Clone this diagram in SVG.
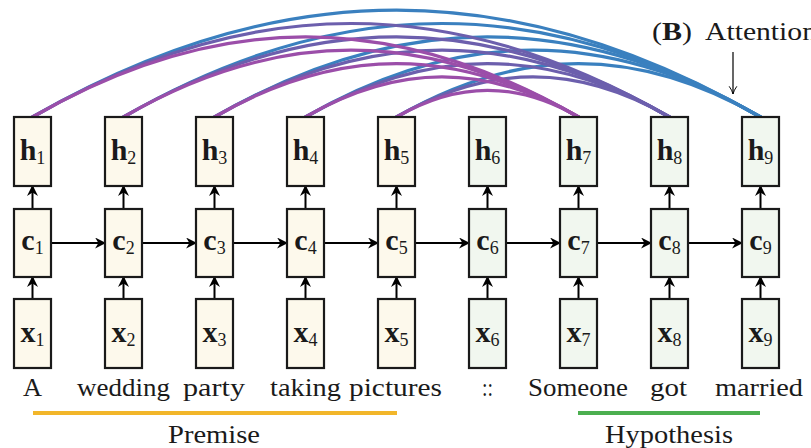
<svg xmlns="http://www.w3.org/2000/svg" width="811" height="448" viewBox="0 0 811 448">
<style>
.box{stroke:#1a1a1a;stroke-width:2.2}
.p{fill:#fdf9ec}
.q{fill:#f1f7ef}
.arr{stroke:#000;stroke-width:2;fill:none;marker-end:url(#ah)}
.att{fill:none;stroke-width:3.2;stroke-linecap:round}
.a7{stroke:#9b4ea9}
.a8{stroke:#6c5fad}
.a9{stroke:#3a80bf}
.lb{font-family:'Liberation Serif','Times New Roman',serif;font-size:30px;fill:#1a1a1a;text-anchor:middle}
.m{font-weight:bold}
.s{font-size:18px;font-weight:normal}
.w{font-family:'Liberation Serif','Times New Roman',serif;font-size:26px;fill:#1a1a1a}
</style>
<defs>
<marker id="ah" viewBox="0 0 10 10" refX="9" refY="5" markerWidth="5.5" markerHeight="5.5" orient="auto" markerUnits="strokeWidth">
<path d="M0,0 L10,5 L0,10 L3,5 z" fill="#000"/>
</marker>
<marker id="ah2" viewBox="0 0 10 10" refX="9" refY="5" markerWidth="8" markerHeight="8" orient="auto" markerUnits="strokeWidth">
<path d="M1,1 Q5,4 9,5 Q5,6 1,9" fill="none" stroke="#000" stroke-width="1"/>
</marker>
</defs>

<g id="attention">
<path class="att a9" d="M32.5 117 C279.32 -25.51 513.68 -25.51 760.5 117"/>
<path class="att a9" d="M123.5 117 C339.47 -7.69 544.53 -7.69 760.5 117"/>
<path class="att a9" d="M214.5 117 C399.62 10.12 575.38 10.12 760.5 117"/>
<path class="att a9" d="M305.5 117 C459.76 27.93 606.24 27.93 760.5 117"/>
<path class="att a9" d="M396.5 117 C519.91 45.75 637.09 45.75 760.5 117"/>
<path class="att a8" d="M32.5 117 C248.47 -7.69 453.53 -7.69 669.5 117"/>
<path class="att a8" d="M123.5 117 C308.62 10.12 484.38 10.12 669.5 117"/>
<path class="att a8" d="M214.5 117 C368.76 27.93 515.24 27.93 669.5 117"/>
<path class="att a8" d="M305.5 117 C428.91 45.75 546.09 45.75 669.5 117"/>
<path class="att a8" d="M396.5 117 C489.06 63.56 576.94 63.56 669.5 117"/>
<path class="att a7" d="M32.5 117 C217.62 10.12 393.38 10.12 578.5 117"/>
<path class="att a7" d="M123.5 117 C277.76 27.93 424.24 27.93 578.5 117"/>
<path class="att a7" d="M214.5 117 C337.91 45.75 455.09 45.75 578.5 117"/>
<path class="att a7" d="M305.5 117 C398.06 63.56 485.94 63.56 578.5 117"/>
<path class="att a7" d="M396.5 117 C458.2 81.37 516.8 81.37 578.5 117"/>
</g>

<g id="connectors">
<path class="arr" d="M32.5 299 V277"/><path class="arr" d="M32.5 209 V186"/>
<path class="arr" d="M123.5 299 V277"/><path class="arr" d="M123.5 209 V186"/>
<path class="arr" d="M214.5 299 V277"/><path class="arr" d="M214.5 209 V186"/>
<path class="arr" d="M305.5 299 V277"/><path class="arr" d="M305.5 209 V186"/>
<path class="arr" d="M396.5 299 V277"/><path class="arr" d="M396.5 209 V186"/>
<path class="arr" d="M487.5 299 V277"/><path class="arr" d="M487.5 209 V186"/>
<path class="arr" d="M578.5 299 V277"/><path class="arr" d="M578.5 209 V186"/>
<path class="arr" d="M669.5 299 V277"/><path class="arr" d="M669.5 209 V186"/>
<path class="arr" d="M760.5 299 V277"/><path class="arr" d="M760.5 209 V186"/>
<path class="arr" d="M51 243 H105"/>
<path class="arr" d="M142 243 H196"/>
<path class="arr" d="M233 243 H287"/>
<path class="arr" d="M324 243 H378"/>
<path class="arr" d="M415 243 H469"/>
<path class="arr" d="M506 243 H560"/>
<path class="arr" d="M597 243 H651"/>
<path class="arr" d="M688 243 H742"/>
<path d="M733 52 V94" stroke="#000" stroke-width="1.2" fill="none" marker-end="url(#ah2)"/>
</g>

<g id="col1">
<rect class="box p" x="14" y="117" width="37" height="69"/><text class="lb" x="32.5" y="160"><tspan class="m">h</tspan><tspan class="s" dy="4">1</tspan></text>
<rect class="box p" x="14" y="209" width="37" height="68"/><text class="lb" x="32.5" y="250"><tspan class="m">c</tspan><tspan class="s" dy="4">1</tspan></text>
<rect class="box p" x="14" y="299" width="37" height="69"/><text class="lb" x="32.5" y="342"><tspan class="m">x</tspan><tspan class="s" dy="4">1</tspan></text>
</g>
<g id="col2">
<rect class="box p" x="105" y="117" width="37" height="69"/><text class="lb" x="123.5" y="160"><tspan class="m">h</tspan><tspan class="s" dy="4">2</tspan></text>
<rect class="box p" x="105" y="209" width="37" height="68"/><text class="lb" x="123.5" y="250"><tspan class="m">c</tspan><tspan class="s" dy="4">2</tspan></text>
<rect class="box p" x="105" y="299" width="37" height="69"/><text class="lb" x="123.5" y="342"><tspan class="m">x</tspan><tspan class="s" dy="4">2</tspan></text>
</g>
<g id="col3">
<rect class="box p" x="196" y="117" width="37" height="69"/><text class="lb" x="214.5" y="160"><tspan class="m">h</tspan><tspan class="s" dy="4">3</tspan></text>
<rect class="box p" x="196" y="209" width="37" height="68"/><text class="lb" x="214.5" y="250"><tspan class="m">c</tspan><tspan class="s" dy="4">3</tspan></text>
<rect class="box p" x="196" y="299" width="37" height="69"/><text class="lb" x="214.5" y="342"><tspan class="m">x</tspan><tspan class="s" dy="4">3</tspan></text>
</g>
<g id="col4">
<rect class="box p" x="287" y="117" width="37" height="69"/><text class="lb" x="305.5" y="160"><tspan class="m">h</tspan><tspan class="s" dy="4">4</tspan></text>
<rect class="box p" x="287" y="209" width="37" height="68"/><text class="lb" x="305.5" y="250"><tspan class="m">c</tspan><tspan class="s" dy="4">4</tspan></text>
<rect class="box p" x="287" y="299" width="37" height="69"/><text class="lb" x="305.5" y="342"><tspan class="m">x</tspan><tspan class="s" dy="4">4</tspan></text>
</g>
<g id="col5">
<rect class="box p" x="378" y="117" width="37" height="69"/><text class="lb" x="396.5" y="160"><tspan class="m">h</tspan><tspan class="s" dy="4">5</tspan></text>
<rect class="box p" x="378" y="209" width="37" height="68"/><text class="lb" x="396.5" y="250"><tspan class="m">c</tspan><tspan class="s" dy="4">5</tspan></text>
<rect class="box p" x="378" y="299" width="37" height="69"/><text class="lb" x="396.5" y="342"><tspan class="m">x</tspan><tspan class="s" dy="4">5</tspan></text>
</g>
<g id="col6">
<rect class="box q" x="469" y="117" width="37" height="69"/><text class="lb" x="487.5" y="160"><tspan class="m">h</tspan><tspan class="s" dy="4">6</tspan></text>
<rect class="box q" x="469" y="209" width="37" height="68"/><text class="lb" x="487.5" y="250"><tspan class="m">c</tspan><tspan class="s" dy="4">6</tspan></text>
<rect class="box q" x="469" y="299" width="37" height="69"/><text class="lb" x="487.5" y="342"><tspan class="m">x</tspan><tspan class="s" dy="4">6</tspan></text>
</g>
<g id="col7">
<rect class="box q" x="560" y="117" width="37" height="69"/><text class="lb" x="578.5" y="160"><tspan class="m">h</tspan><tspan class="s" dy="4">7</tspan></text>
<rect class="box q" x="560" y="209" width="37" height="68"/><text class="lb" x="578.5" y="250"><tspan class="m">c</tspan><tspan class="s" dy="4">7</tspan></text>
<rect class="box q" x="560" y="299" width="37" height="69"/><text class="lb" x="578.5" y="342"><tspan class="m">x</tspan><tspan class="s" dy="4">7</tspan></text>
</g>
<g id="col8">
<rect class="box q" x="651" y="117" width="37" height="69"/><text class="lb" x="669.5" y="160"><tspan class="m">h</tspan><tspan class="s" dy="4">8</tspan></text>
<rect class="box q" x="651" y="209" width="37" height="68"/><text class="lb" x="669.5" y="250"><tspan class="m">c</tspan><tspan class="s" dy="4">8</tspan></text>
<rect class="box q" x="651" y="299" width="37" height="69"/><text class="lb" x="669.5" y="342"><tspan class="m">x</tspan><tspan class="s" dy="4">8</tspan></text>
</g>
<g id="col9">
<rect class="box q" x="742" y="117" width="37" height="69"/><text class="lb" x="760.5" y="160"><tspan class="m">h</tspan><tspan class="s" dy="4">9</tspan></text>
<rect class="box q" x="742" y="209" width="37" height="68"/><text class="lb" x="760.5" y="250"><tspan class="m">c</tspan><tspan class="s" dy="4">9</tspan></text>
<rect class="box q" x="742" y="299" width="37" height="69"/><text class="lb" x="760.5" y="342"><tspan class="m">x</tspan><tspan class="s" dy="4">9</tspan></text>
</g>

<g id="words">
<text class="w" x="23" y="396" textLength="19" lengthAdjust="spacingAndGlyphs">A</text>
<text class="w" x="77" y="396" textLength="93" lengthAdjust="spacingAndGlyphs">wedding</text>
<text class="w" x="183" y="396" textLength="62" lengthAdjust="spacingAndGlyphs">party</text>
<text class="w" x="270" y="396" textLength="71" lengthAdjust="spacingAndGlyphs">taking</text>
<text class="w" x="349" y="396" textLength="93" lengthAdjust="spacingAndGlyphs">pictures</text>
<text class="w" x="482" y="396" textLength="11" lengthAdjust="spacingAndGlyphs">::</text>
<text class="w" x="528" y="396" textLength="100" lengthAdjust="spacingAndGlyphs">Someone</text>
<text class="w" x="650" y="396" textLength="37" lengthAdjust="spacingAndGlyphs">got</text>
<text class="w" x="715" y="396" textLength="88" lengthAdjust="spacingAndGlyphs">married</text>
</g>
<g id="premise">
<line x1="33" y1="413" x2="397" y2="413" stroke="#f2b62a" stroke-width="4"/>
<text class="w" x="168" y="443" textLength="92" lengthAdjust="spacingAndGlyphs">Premise</text>
</g>
<g id="hypothesis">
<line x1="578" y1="413" x2="760" y2="413" stroke="#4caf50" stroke-width="4"/>
<text class="w" x="605" y="443" textLength="128" lengthAdjust="spacingAndGlyphs">Hypothesis</text>
</g>
<g id="label-attention">
<text class="w" y="40"><tspan x="652" textLength="40" lengthAdjust="spacingAndGlyphs">(<tspan font-weight="bold">B</tspan>)</tspan><tspan x="705" textLength="112" lengthAdjust="spacingAndGlyphs">Attention</tspan></text>
</g>
</svg>
